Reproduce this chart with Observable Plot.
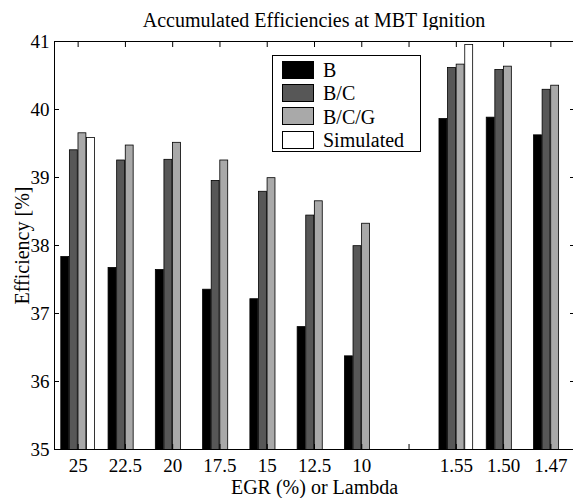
<!DOCTYPE html>
<html>
<head>
<meta charset="utf-8">
<script src="https://cdn.jsdelivr.net/npm/d3@7"></script>
<script src="https://cdn.jsdelivr.net/npm/@observablehq/plot@0.6"></script>
<style>
  html, body { margin: 0; padding: 0; background: #fff; }
  #wrap { position: relative; width: 573px; height: 498px; overflow: hidden;
          font-family: "Liberation Serif", "Times New Roman", serif; color: #000; }
  #title { position: absolute; left: 54px; width: 520px; top: 10px; height: 20px;
           line-height: 20px; font-size: 20px; text-align: center; white-space: nowrap; }
  #chart { position: absolute; left: 0; top: 30px; }
  #legend { position: absolute; left: 272px; top: 55px; width: 147px; height: 95px;
            border: 1px solid #000; background: #fff; }
  .sw { position: absolute; left: 9px; width: 32px; height: 18px; box-sizing: border-box;
        border: 1px solid #000; }
  .lab { position: absolute; left: 50px; height: 20px; line-height: 20px; font-size: 20px;
         white-space: nowrap; }
</style>
</head>
<body>
<div id="wrap">
  <div id="title">Accumulated Efficiencies at MBT Ignition</div>
  <div id="chart"></div>
  <div id="legend"></div>
</div>
<script>
// Category labels along the x axis (the empty slot separates EGR from Lambda runs)
const categories = ["25", "22.5", "20", "17.5", "15", "12.5", "10", "", "1.55", "1.50", "1.47"];
const seriesNames = ["B", "B/C", "B/C/G", "Simulated"];
const seriesColors = ["#000000", "#575757", "#a9a9a9", "#ffffff"];

// Efficiency [%] per category, one array per series
const effB   = [37.83, 37.67, 37.64, 37.35, 37.21, 36.80, 36.37, null, 39.86, 39.88, 39.62];
const effBC  = [39.40, 39.25, 39.26, 38.95, 38.79, 38.44, 37.99, null, 40.61, 40.58, 40.29];
const effBCG = [39.65, 39.47, 39.51, 39.25, 38.99, 38.65, 38.32, null, 40.66, 40.63, 40.35];
const effSim = [39.58, null, null, null, null, null, null, null, 40.95, null, null];

const yTicks = [35, 36, 37, 38, 39, 40, 41];

const series = [effB, effBC, effBCG, effSim];

// Grouped-bar layout: each category slot holds four side-by-side bars
const groupWidth = 4 / 5.5;
const slot = groupWidth / series.length;
const barWidth = slot * 0.92;

const rows = [];
series.forEach((vals, s) => vals.forEach((v, i) => {
  if (v != null) rows.push({pos: i + 1, s, name: seriesNames[s], value: v});
}));
const center = d => d.pos + (d.s - (series.length - 1) / 2) * slot;
const positions = categories.map((_, i) => i + 1);

const chart = Plot.plot({
  width: 573,
  height: 468,
  marginTop: 11,
  marginBottom: 49,
  marginLeft: 54,
  marginRight: -1,
  style: {fontFamily: "'Liberation Serif', 'Times New Roman', serif", fontSize: "19px", background: "white", color: "black"},
  x: {domain: [0.5, categories.length + 0.5], axis: null},
  y: {domain: [35, 41], axis: null},
  marks: [
    Plot.rect(rows, {
      x1: d => center(d) - barWidth / 2,
      x2: d => center(d) + barWidth / 2,
      y1: 0,
      y2: "value",
      fill: d => seriesColors[d.s],
      stroke: "black",
      strokeWidth: 0.8,
      clip: true
    }),
    Plot.frame({stroke: "black", strokeWidth: 1}),
    Plot.axisX(positions, {anchor: "bottom", tickSize: -5, tickPadding: 13.5, tickFormat: i => categories[i - 1], label: null}),
    Plot.axisX(positions, {anchor: "top", tickSize: -5, tickFormat: () => "", label: null}),
    Plot.axisY(yTicks, {anchor: "left", tickSize: -5, tickPadding: 10, tickFormat: d => String(d), label: null}),
    Plot.axisY(yTicks, {anchor: "right", tickSize: -5, tickFormat: () => "", label: null}),
    Plot.text(["EGR (%) or Lambda"], {text: d => d, frameAnchor: "bottom", textAnchor: "middle", lineAnchor: "middle", dy: 37.6, fontSize: 20}),
    Plot.text(["Efficiency [%]"], {text: d => d, frameAnchor: "left", textAnchor: "middle", lineAnchor: "middle", dx: -32, rotate: -90, fontSize: 20})
  ]
});
document.getElementById("chart").appendChild(chart);

// Legend box inside the plot area
const legend = document.getElementById("legend");
seriesNames.forEach((name, i) => {
  const top = 4.7 + i * 23.3;
  const sw = document.createElement("div");
  sw.className = "sw";
  sw.style.top = top + "px";
  sw.style.background = seriesColors[i];
  legend.appendChild(sw);
  const lab = document.createElement("div");
  lab.className = "lab";
  lab.style.top = (top - 0.8) + "px";
  lab.textContent = name;
  legend.appendChild(lab);
});
</script>
</body>
</html>
